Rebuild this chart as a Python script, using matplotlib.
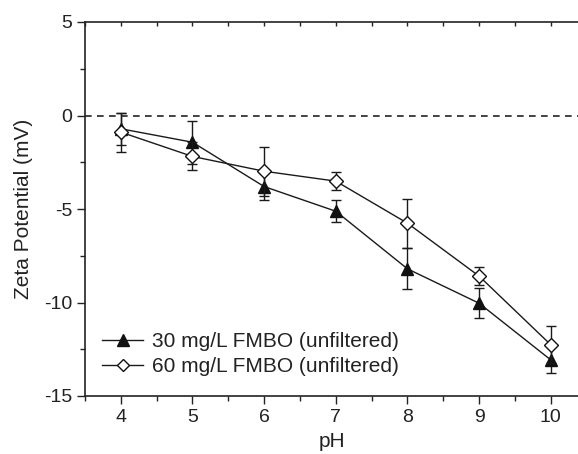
import matplotlib
matplotlib.use("Agg")
import matplotlib.pyplot as plt
from matplotlib.ticker import MultipleLocator
from matplotlib.lines import Line2D

plt.rcParams['font.family'] = ['Liberation Sans', 'DejaVu Sans']
plt.rcParams['axes.unicode_minus'] = False

ph = [4, 5, 6, 7, 8, 9, 10]
zeta_30 = [-0.71, -1.43, -3.80, -5.12, -8.20, -10.04, -13.07]
err_30 = [0.85, 1.15, 0.70, 0.60, 1.10, 0.80, 0.70]
zeta_60 = [-0.89, -2.19, -2.98, -3.51, -5.76, -8.59, -12.26]
err_60 = [1.05, 0.75, 1.30, 0.50, 1.30, 0.50, 1.00]

label_30 = "30 mg/L FMBO (unfiltered)"
label_60 = "60 mg/L FMBO (unfiltered)"

fig = plt.figure(figsize=(5.78, 4.54), dpi=100)
ax = fig.add_axes([85/578, 1-396/454, 1-85/578, (396-22)/454])

ax.axhline(0, color='#222222', lw=1.2, ls=(0, (4, 3.2)), zorder=1)

ax.errorbar(ph, zeta_30, yerr=err_30, color='#1a1a1a', lw=1.0, marker='^',
            ms=8, mfc='#111111', mec='#111111', capsize=3.5, elinewidth=1.0,
            capthick=1.0, zorder=3)
ax.errorbar(ph, zeta_60, yerr=err_60, color='#1a1a1a', lw=1.0, marker='D',
            ms=7, mfc='white', mec='#111111', mew=1.0, capsize=3.5, elinewidth=1.0,
            capthick=1.0, zorder=4)

ax.set_xlim(3.5, 10.38)
ax.set_ylim(-15, 5)
ax.xaxis.set_major_locator(MultipleLocator(1))
ax.xaxis.set_minor_locator(MultipleLocator(0.5))
ax.yaxis.set_major_locator(MultipleLocator(5))
ax.yaxis.set_minor_locator(MultipleLocator(2.5))

ax.spines['right'].set_visible(False)
for s in ['left', 'bottom', 'top']:
    ax.spines[s].set_linewidth(1.2)
    ax.spines[s].set_color('#222222')

ax.tick_params(axis='both', which='major', direction='out', length=6, width=1.0,
               labelsize=14, colors='#222222', pad=3)
ax.tick_params(axis='both', which='minor', direction='out', length=3.5, width=1.0,
               colors='#222222')
ax.tick_params(axis='x', which='both', top=True, labeltop=False)
for t in ax.xaxis.get_major_ticks() + ax.xaxis.get_minor_ticks():
    t.tick2line.set_marker(matplotlib.lines.TICKDOWN)
    t.tick2line.set_markersize(3)

ax.set_xlabel("pH", fontsize=15, color='#222222', labelpad=5)
ax.set_ylabel("Zeta Potential (mV)", fontsize=15, color='#222222', labelpad=8)

handles = [
    Line2D([], [], color='#1a1a1a', lw=1.0, marker='^', ms=8, mfc='#111111', mec='#111111'),
    Line2D([], [], color='#1a1a1a', lw=1.0, marker='D', ms=6, mfc='white', mec='#111111'),
]
leg = ax.legend(handles, [label_30, label_60], loc='lower left',
                bbox_to_anchor=(-0.004, 0.003), frameon=False,
                fontsize=15, handlelength=2.0, handletextpad=0.4, labelspacing=0.3,
                borderaxespad=0.5)
for txt in leg.get_texts():
    txt.set_color('#222222')

fig.savefig("out.png", dpi=100)
